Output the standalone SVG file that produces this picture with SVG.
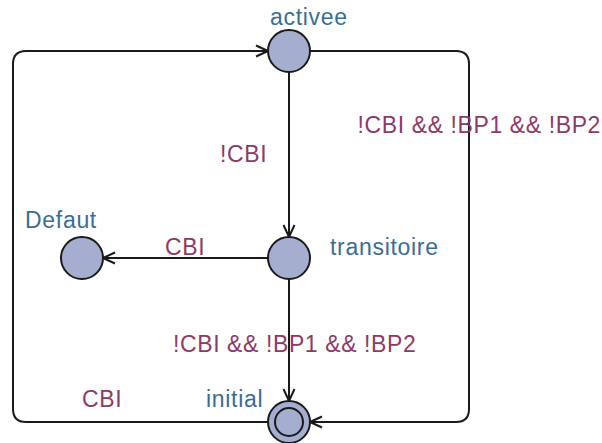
<svg xmlns="http://www.w3.org/2000/svg" width="602" height="443" viewBox="0 0 602 443">
<style>
.edge{fill:none;stroke:#1a1a1a;stroke-width:2}
.node{fill:#a6aed0;stroke:#1a1a1a;stroke-width:2}
.nlab{font-family:"Liberation Sans",Arial,sans-serif;font-size:23px;letter-spacing:0.7px;fill:#3a6d96}
.elab{font-family:"Liberation Sans",Arial,sans-serif;font-size:23px;letter-spacing:0.6px;fill:#8e3a66}
</style>
<defs>
<marker id="arr" viewBox="0 0 14 14" refX="13" refY="7" markerWidth="14" markerHeight="14" markerUnits="userSpaceOnUse" orient="auto">
<path d="M1,1.5 L13,7 L1,12.5" fill="none" stroke="#1a1a1a" stroke-width="2"/>
</marker>
</defs>
<rect width="602" height="443" fill="#ffffff"/>
<g id="connectors">
<path class="edge" d="M268,422 L26,422 Q13,422 13,409 L13,64 Q13,51 26,51 L268,51" marker-end="url(#arr)"/>
<path class="edge" d="M310,51 L456,51 Q469,51 469,64 L469,409 Q469,422 456,422 L310,422" marker-end="url(#arr)"/>
<path class="edge" d="M289,72 L289,237" marker-end="url(#arr)"/>
<path class="edge" d="M289,279 L289,401" marker-end="url(#arr)"/>
<path class="edge" d="M268,258 L103,258" marker-end="url(#arr)"/>
<text class="elab" x="220" y="162">!CBI</text>
<text class="elab" x="601" y="133" text-anchor="end">!CBI &amp;&amp; !BP1 &amp;&amp; !BP2</text>
<text class="elab" x="165" y="255">CBI</text>
<text class="elab" x="173" y="352">!CBI &amp;&amp; !BP1 &amp;&amp; !BP2</text>
<text class="elab" x="82" y="407">CBI</text>
</g>
<g id="activee">
<circle class="node" cx="289" cy="51" r="21"/>
<text class="nlab" x="270" y="25">activee</text>
</g>
<g id="transitoire">
<circle class="node" cx="289" cy="258" r="21"/>
<text class="nlab" x="330" y="255">transitoire</text>
</g>
<g id="Defaut">
<circle class="node" cx="82" cy="258" r="21"/>
<text class="nlab" x="25" y="228">Defaut</text>
</g>
<g id="initial">
<circle class="node" cx="289" cy="422" r="21"/>
<circle class="node" cx="289" cy="422" r="14"/>
<text class="nlab" x="206" y="407">initial</text>
</g>
</svg>
